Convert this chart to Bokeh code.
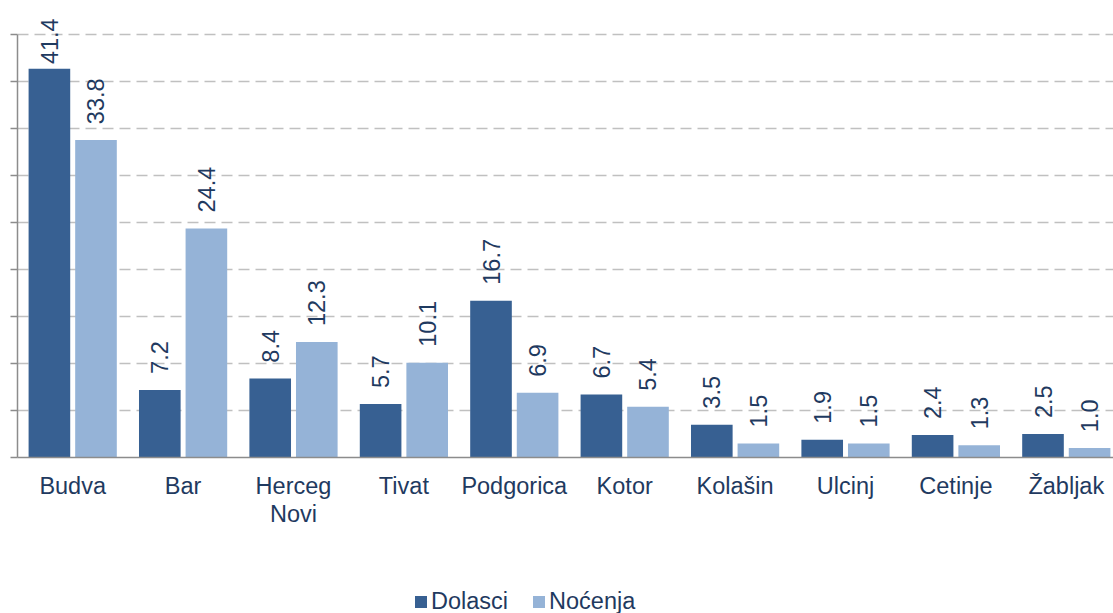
import numpy as np
from bokeh.plotting import figure
from bokeh.layouts import column
from bokeh.models import Range1d, FixedTicker, ColumnDataSource, Legend, LegendItem
from bokeh.core.properties import value
from bokeh.embed import file_html
from bokeh.resources import INLINE

cities = ["Budva", "Bar", "Herceg\nNovi", "Tivat", "Podgorica", "Kotor", "Kolašin", "Ulcinj", "Cetinje", "Žabljak"]
dolasci = [41.4, 7.2, 8.4, 5.7, 16.7, 6.7, 3.5, 1.9, 2.4, 2.5]
nocenja = [33.8, 24.4, 12.3, 10.1, 6.9, 5.4, 1.5, 1.5, 1.3, 1.0]
series = ["Dolasci", "Noćenja"]
y_ticks = [0, 5, 10, 15, 20, 25, 30, 35, 40, 45]

FONT = "Liberation Sans"
TXT = "#1f3a60"
DARK = "#376092"
LIGHT = "#95b3d7"

W = 1113
H1, H2 = 560, 53
left_b, right_b, top_b, bottom_b = 17, 0, 0, 103
frame_w = W - left_b - right_b
frame_h = H1 - top_b - bottom_b
px_per_group = 110.4
px_per_unit = 9.39

centers = np.arange(len(cities)) + 0.5
off = 0.211
bw = 0.377

p = figure(width=W, height=H1, output_backend="svg", toolbar_location=None,
           x_range=Range1d(0, frame_w / px_per_group),
           y_range=Range1d(0, frame_h / px_per_unit),
           min_border_left=left_b, min_border_right=right_b,
           min_border_top=top_b, min_border_bottom=bottom_b)
p.outline_line_color = None
p.background_fill_color = "white"
p.border_fill_color = "white"

src = ColumnDataSource(dict(
    xd=centers - off, xn=centers + off,
    d=dolasci, n=nocenja,
    dl=[f"{v:.1f}" for v in dolasci], nl=[f"{v:.1f}" for v in nocenja],
    dy=np.minimum(np.array(dolasci) + 1.7, 41.9),
    ny=np.minimum(np.array(nocenja) + 1.7, 41.9),
))

p.vbar(x="xd", top="d", width=bw, bottom=0, source=src, fill_color=DARK, line_color=None)
p.vbar(x="xn", top="n", width=bw, bottom=0, source=src, fill_color=LIGHT, line_color=None)

for xcol, ycol, tcol in (("xd", "dy", "dl"), ("xn", "ny", "nl")):
    p.text(x=xcol, y=ycol, text=tcol, source=src, angle=np.pi / 2,
           text_align="left", text_baseline="middle",
           text_font=value(FONT), text_font_size="23.5px", text_color=TXT)

# y axis
p.yaxis.ticker = FixedTicker(ticks=y_ticks)
p.yaxis.bounds = (0, 45)
p.yaxis.major_label_overrides = {t: "" for t in y_ticks}
p.yaxis.major_label_text_font_size = "0px"
p.yaxis.major_label_standoff = 0
p.yaxis.major_tick_out = 7
p.yaxis.major_tick_in = 0
p.yaxis.minor_tick_line_color = None
p.yaxis.axis_line_color = "#8c8c8c"
p.yaxis.axis_line_width = 1.5
p.yaxis.major_tick_line_color = "#8c8c8c"
p.yaxis.major_tick_line_width = 1.5

# x axis
p.xaxis.ticker = FixedTicker(ticks=list(centers))
p.xaxis.major_label_overrides = {float(c): lab for c, lab in zip(centers, cities)}
p.xaxis.major_tick_line_color = None
p.xaxis.minor_tick_line_color = None
p.xaxis.axis_line_color = "#8c8c8c"
p.xaxis.axis_line_width = 1.5
p.xaxis.major_label_standoff = 9
p.xaxis.major_label_text_font = FONT
p.xaxis.major_label_text_font_size = "23.5px"
p.xaxis.major_label_text_color = TXT
p.xaxis.major_label_text_line_height = 1.1

# grid
p.xgrid.grid_line_color = None
p.ygrid.ticker = FixedTicker(ticks=y_ticks)
p.ygrid.grid_line_color = "#c0c0c0"
p.ygrid.grid_line_width = 1.5
p.ygrid.grid_line_dash = "11 6"

# legend strip (hidden renderers supply the legend swatches)
p2 = figure(width=W, height=H2, output_backend="svg", toolbar_location=None,
            x_range=Range1d(-100, -99), y_range=Range1d(-100, -99),
            min_border=0)
p2.axis.visible = False
p2.grid.visible = False
p2.outline_line_color = None
l1 = p2.vbar(x="xd", top="d", width=bw, source=src, fill_color=DARK, line_color=None, visible=False)
l2 = p2.vbar(x="xn", top="n", width=bw, source=src, fill_color=LIGHT, line_color=None, visible=False)
legend = Legend(items=[LegendItem(label=series[0], renderers=[l1]),
                       LegendItem(label=series[1], renderers=[l2])],
                orientation="horizontal", location=(396, -2),
                glyph_width=15, glyph_height=15, label_standoff=3, spacing=23,
                padding=0, margin=0, border_line_color=None, background_fill_alpha=0,
                inactive_fill_alpha=0,
                label_text_font=FONT, label_text_font_size="23.5px", label_text_color=TXT)
p2.add_layout(legend)

open("out.html", "w").write(file_html(column(p, p2, spacing=0), INLINE))
